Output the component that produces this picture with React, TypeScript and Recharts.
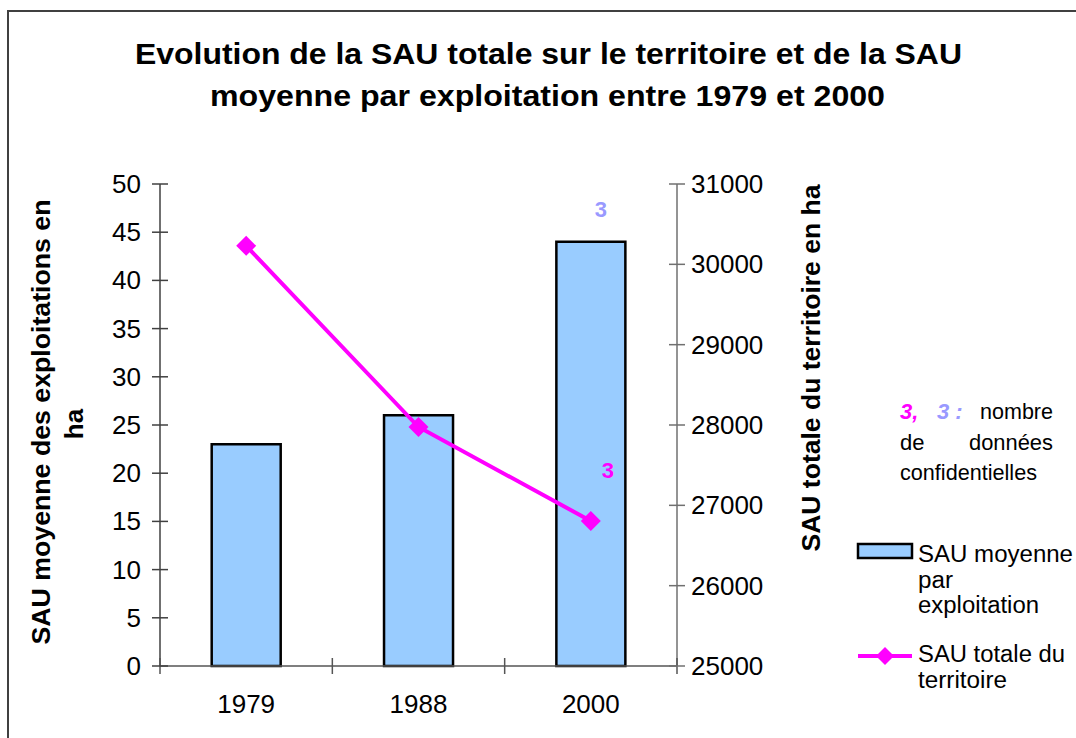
import React from "react";
import {
  ComposedChart,
  Bar,
  Line,
  XAxis,
  YAxis,
  LabelList,
} from "recharts";

const years = ["1979", "1988", "2000"];
const sauMoyenne = [23, 26, 44];
const sauTotale = [30230, 27975, 26805];
// nombre de données confidentielles (affiché seulement en 2000)
const confBar = [null, null, 3];
const confLine = [null, null, 3];

const leftTicks = [0, 5, 10, 15, 20, 25, 30, 35, 40, 45, 50];
const rightTicks = [25000, 26000, 27000, 28000, 29000, 30000, 31000];

const data = years.map((year, i) => ({
  year,
  moyenne: sauMoyenne[i],
  totale: sauTotale[i],
  confBar: confBar[i],
  confLine: confLine[i],
}));

const FONT = "'Liberation Sans', Arial, sans-serif";
const MAGENTA = "#FF00FF";
const LILAC = "#9999FF";
const BAR_FILL = "#99CCFF";

const W = 1076;
const H = 738;
const PLOT_LEFT = 160;
const PLOT_RIGHT = 677;
const BAND = (PLOT_RIGHT - PLOT_LEFT) / years.length;

const LeftTick = (props: any) => {
  const { x, y, payload } = props;
  return (
    <g>
      <line x1={x - 8} x2={x + 8} y1={y} y2={y} stroke="#404040" strokeWidth={1.5} />
      <text x={x - 19} y={y + 9} textAnchor="end" fontSize={26} fontFamily={FONT} fill="#000">
        {payload.value}
      </text>
    </g>
  );
};

const RightTick = (props: any) => {
  const { x, y, payload } = props;
  return (
    <g>
      <line x1={x - 8} x2={x + 8} y1={y} y2={y} stroke="#707070" strokeWidth={1.5} />
      <text x={x + 14} y={y + 9} textAnchor="start" fontSize={26} fontFamily={FONT} fill="#000">
        {payload.value}
      </text>
    </g>
  );
};

const XTick = (props: any) => {
  const { x, y, payload, index } = props;
  const last = index === years.length - 1;
  return (
    <g>
      <line x1={x - BAND / 2} x2={x - BAND / 2} y1={y - 8} y2={y + 8} stroke="#555" strokeWidth={1.5} />
      {last && (
        <line x1={x + BAND / 2} x2={x + BAND / 2} y1={y - 8} y2={y + 8} stroke="#555" strokeWidth={1.5} />
      )}
      <text x={x} y={y + 47} textAnchor="middle" fontSize={26} fontFamily={FONT} fill="#000">
        {payload.value}
      </text>
    </g>
  );
};

const Diamond = (props: any) => {
  const { cx, cy } = props;
  if (cx == null || cy == null) return null;
  const r = 10;
  return (
    <path
      d={`M${cx},${cy - r} L${cx + r},${cy} L${cx},${cy + r} L${cx - r},${cy} Z`}
      fill={MAGENTA}
    />
  );
};

const BarNote = (props: any) => {
  const { x, y, width, value } = props;
  if (value == null) return null;
  return (
    <text x={x + width / 2 + 10} y={y - 25} textAnchor="middle" fontSize={22} fontWeight="bold" fontFamily={FONT} fill={LILAC}>
      {value}
    </text>
  );
};

const LineNote = (props: any) => {
  const { x, y, value } = props;
  if (value == null) return null;
  return (
    <text x={x + 17} y={y - 43} textAnchor="middle" fontSize={22} fontWeight="bold" fontFamily={FONT} fill={MAGENTA}>
      {value}
    </text>
  );
};

export default function App() {
  return (
    <div
      style={{
        position: "absolute",
        left: 0,
        top: 0,
        width: W,
        height: H,
        overflow: "hidden",
        background: "#fff",
      }}
    >
      <div
        style={{
          position: "absolute",
          left: 7,
          top: 10,
          width: 1200,
          height: 900,
          border: "2px solid #404040",
        }}
      />
      <div style={{ position: "absolute", left: 0, top: 0 }}>
        <ComposedChart
          width={W}
          height={H}
          data={data}
          margin={{ top: 184, right: 0, bottom: 22, left: 0 }}
          barCategoryGap="30%"
        >
          <XAxis
            dataKey="year"
            height={50}
            tickSize={0}
            tickMargin={0}
            tick={<XTick />}
            axisLine={{ stroke: "#555", strokeWidth: 1.5 }}
            tickLine={false}
          />
          <YAxis
            yAxisId="left"
            width={PLOT_LEFT}
            domain={[0, 50]}
            ticks={leftTicks}
            interval={0}
            tickSize={0}
            tickMargin={0}
            tick={<LeftTick />}
            tickLine={false}
            axisLine={{ stroke: "#404040", strokeWidth: 1.5 }}
          />
          <YAxis
            yAxisId="right"
            orientation="right"
            width={W - PLOT_RIGHT}
            domain={[25000, 31000]}
            ticks={rightTicks}
            interval={0}
            tickSize={0}
            tickMargin={0}
            tick={<RightTick />}
            tickLine={false}
            axisLine={{ stroke: "#707070", strokeWidth: 1.5 }}
          />
          <Bar
            yAxisId="left"
            dataKey="moyenne"
            fill={BAR_FILL}
            stroke="#000"
            strokeWidth={2.5}
            isAnimationActive={false}
          >
            <LabelList dataKey="confBar" content={<BarNote />} />
          </Bar>
          <Line
            yAxisId="right"
            type="linear"
            dataKey="totale"
            stroke={MAGENTA}
            strokeWidth={4}
            dot={<Diamond />}
            activeDot={false}
            isAnimationActive={false}
          >
            <LabelList dataKey="confLine" content={<LineNote />} />
          </Line>
        </ComposedChart>
      </div>

      <svg
        width={W}
        height={H}
        style={{ position: "absolute", left: 0, top: 0, pointerEvents: "none" }}
        fontFamily={FONT}
      >
        {/* titre */}
        <text x={548.5} y={64} textAnchor="middle" fontSize={29} fontWeight="bold" textLength={827} lengthAdjust="spacingAndGlyphs">
          Evolution de la SAU totale sur le territoire et de la SAU
        </text>
        <text x={547.5} y={106} textAnchor="middle" fontSize={29} fontWeight="bold" textLength={675} lengthAdjust="spacingAndGlyphs">
          moyenne par exploitation entre 1979 et 2000
        </text>

        {/* titres des axes */}
        <text transform="translate(50,422) rotate(-90)" textAnchor="middle" fontSize={26} fontWeight="bold" textLength={445} lengthAdjust="spacingAndGlyphs">
          SAU moyenne des exploitations en
        </text>
        <text transform="translate(83,424) rotate(-90)" textAnchor="middle" fontSize={26} fontWeight="bold">
          ha
        </text>
        <text transform="translate(820,368) rotate(-90)" textAnchor="middle" fontSize={26} fontWeight="bold" textLength={367} lengthAdjust="spacingAndGlyphs">
          SAU totale du territoire en ha
        </text>

        {/* note sur les données confidentielles */}
        <text x={900} y={419} fontSize={22} fontWeight="bold" fontStyle="italic" fill={MAGENTA}>
          3,
        </text>
        <text x={937} y={419} fontSize={22} fontWeight="bold" fontStyle="italic" fill={LILAC}>
          3 :
        </text>
        <text x={980} y={419} fontSize={22} textLength={73} lengthAdjust="spacingAndGlyphs">
          nombre
        </text>
        <text x={900} y={450} fontSize={22}>
          de
        </text>
        <text x={969} y={450} fontSize={22} textLength={84} lengthAdjust="spacingAndGlyphs">
          données
        </text>
        <text x={900} y={480} fontSize={22} textLength={137} lengthAdjust="spacingAndGlyphs">
          confidentielles
        </text>

        {/* légende */}
        <rect x={858} y={544} width={54} height={14} fill={BAR_FILL} stroke="#000" strokeWidth={2.5} />
        <text x={918} y={562} fontSize={23} textLength={155} lengthAdjust="spacingAndGlyphs">
          SAU moyenne
        </text>
        <text x={918} y={588} fontSize={23} textLength={35} lengthAdjust="spacingAndGlyphs">
          par
        </text>
        <text x={918} y={613} fontSize={23} textLength={121} lengthAdjust="spacingAndGlyphs">
          exploitation
        </text>
        <line x1={858} x2={912} y1={656} y2={656} stroke={MAGENTA} strokeWidth={4} />
        <path d="M885,647 L894,656 L885,665 L876,656 Z" fill={MAGENTA} />
        <text x={918} y={662} fontSize={23} textLength={147} lengthAdjust="spacingAndGlyphs">
          SAU totale du
        </text>
        <text x={918} y={688} fontSize={23} textLength={89} lengthAdjust="spacingAndGlyphs">
          territoire
        </text>
      </svg>
    </div>
  );
}
